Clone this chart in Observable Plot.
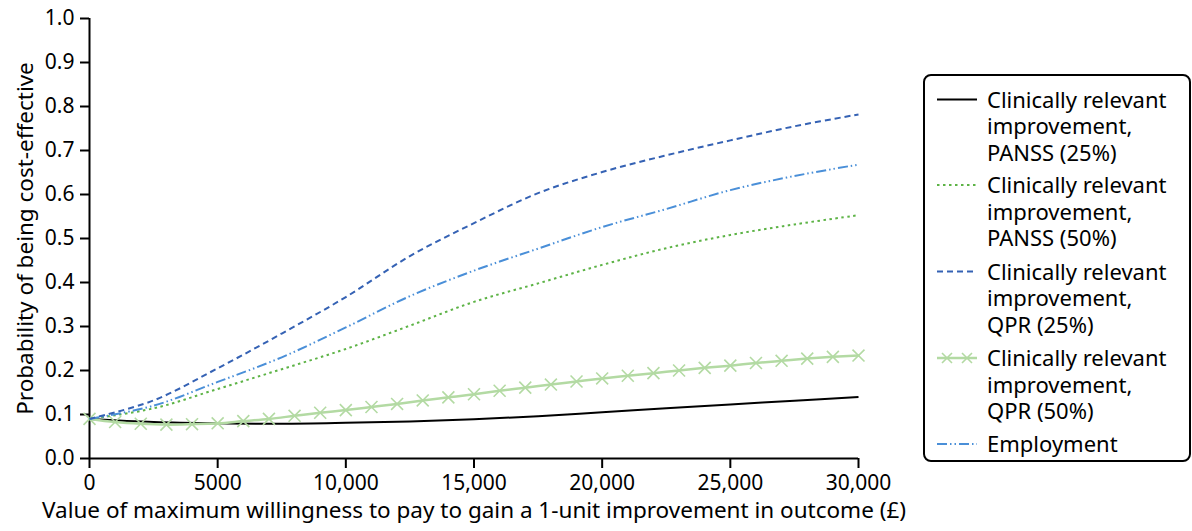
<!DOCTYPE html>
<html>
<head>
<meta charset="utf-8">
<script src="https://cdn.jsdelivr.net/npm/d3@7"></script>
<script src="https://cdn.jsdelivr.net/npm/@observablehq/plot@0.6"></script>
<style>
  html, body { margin: 0; padding: 0; background: #fff; }
  #chart { width: 1192px; height: 531px; }
</style>
</head>
<body>
<div id="chart"></div>
<script>
// Willingness-to-pay values (£)
const wtp = [0, 2500, 5000, 7500, 10000, 12500, 15000, 17500, 20000, 22500, 25000, 27500, 30000];
const panss25 = [0.090, 0.083, 0.080, 0.079, 0.081, 0.084, 0.089, 0.096, 0.105, 0.114, 0.123, 0.131, 0.140];
const panss50 = [0.090, 0.114, 0.158, 0.203, 0.249, 0.302, 0.356, 0.398, 0.440, 0.478, 0.508, 0.532, 0.553];
const qpr25   = [0.090, 0.132, 0.205, 0.284, 0.367, 0.460, 0.535, 0.603, 0.651, 0.689, 0.723, 0.755, 0.782];
const employment = [0.090, 0.120, 0.174, 0.230, 0.298, 0.369, 0.427, 0.477, 0.526, 0.567, 0.610, 0.642, 0.668];
// QPR (50%) read at every £1000 (marker positions)
const wtp1000 = d3.range(0, 30001, 1000);
const qpr50 = [0.090, 0.083, 0.079, 0.077, 0.078, 0.080, 0.085, 0.090, 0.097, 0.104, 0.110, 0.117, 0.124, 0.132, 0.139,
               0.146, 0.154, 0.161, 0.168, 0.175, 0.182, 0.188, 0.194, 0.200, 0.206, 0.211, 0.217, 0.222, 0.227, 0.231, 0.234];

const xTicks = [0, 5000, 10000, 15000, 20000, 25000, 30000];
const yTicks = [0, 0.1, 0.2, 0.3, 0.4, 0.5, 0.6, 0.7, 0.8, 0.9, 1.0];
const xLabel = "Value of maximum willingness to pay to gain a 1-unit improvement in outcome (£)";
const yLabel = "Probability of being cost-effective";

const seriesNames = [
  "Clinically relevant improvement, PANSS (25%)",
  "Clinically relevant improvement, PANSS (50%)",
  "Clinically relevant improvement, QPR (25%)",
  "Clinically relevant improvement, QPR (50%)",
  "Employment"
];
const legendLines = [
  ["Clinically relevant", "improvement,", "PANSS (25%)"],
  ["Clinically relevant", "improvement,", "PANSS (50%)"],
  ["Clinically relevant", "improvement,", "QPR (25%)"],
  ["Clinically relevant", "improvement,", "QPR (50%)"],
  ["Employment"]
];
const styles = [
  {stroke: "#000000", dash: null, width: 2},
  {stroke: "#5db346", dash: "2.5,3.5", width: 2},
  {stroke: "#3562b4", dash: "6,4", width: 2},
  {stroke: "#b3daa3", dash: null, width: 2.5},
  {stroke: "#4a8fd8", dash: "10,3,1.5,3,1.5,3", width: 2}
];

const toRows = (vals, xs) => vals.map((v, i) => ({x: xs[i], y: v}));
const rows = [panss25, panss50, qpr25, null, employment];

const lineMark = k => Plot.line(toRows(rows[k], wtp), {
  x: "x", y: "y", curve: "catmull-rom", stroke: styles[k].stroke,
  strokeWidth: styles[k].width, strokeDasharray: styles[k].dash, strokeLinecap: "butt"
});
const qpr50Rows = toRows(qpr50, wtp1000);

const fmtX = d => d === 0 ? "0" : (d < 10000 ? String(d) : d3.format(",")(d));
const FONT = "Noto Sans, sans-serif";

const chart = Plot.plot({
  width: 1192, height: 531,
  marginLeft: 89, marginRight: 334, marginTop: 18, marginBottom: 73,
  style: {fontFamily: FONT, fontSize: "21px", color: "#000", background: "#fff", overflow: "visible"},
  x: {domain: [0, 30000]},
  y: {domain: [0, 1]},
  marks: [
    Plot.axisX({ticks: xTicks, tickFormat: fmtX, tickSize: 10, tickPadding: 7, strokeWidth: 2, label: null, fontSize: 21}),
    Plot.axisY({ticks: yTicks, tickFormat: d3.format(".1f"), tickSize: 9, tickPadding: 6, strokeWidth: 2, label: null, fontSize: 21}),
    Plot.ruleY([0], {stroke: "#000", strokeWidth: 2}),
    Plot.ruleX([0], {stroke: "#000", strokeWidth: 2}),
    lineMark(0),
    Plot.line(qpr50Rows, {x: "x", y: "y", curve: "catmull-rom", stroke: styles[3].stroke, strokeWidth: 2.5}),
    Plot.dot(qpr50Rows, {x: "x", y: "y", symbol: "times", r: 5.5, stroke: styles[3].stroke, strokeWidth: 1.6}),
    lineMark(1), lineMark(4), lineMark(2),
    Plot.text([xLabel], {frameAnchor: "bottom", textAnchor: "middle", dy: 59, fontSize: 22.5, fill: "#000"}),
    Plot.text([yLabel], {frameAnchor: "left", textAnchor: "middle", rotate: -90, dx: -64, fontSize: 22.5, fill: "#000"})
  ]
});
document.getElementById("chart").appendChild(chart);

// Legend (drawn into the same SVG)
const svg = d3.select(chart);
const lg = svg.append("g").attr("font-family", FONT).attr("font-size", 22).attr("fill", "#000")
  .attr("text-anchor", "start");
lg.append("rect").attr("x", 924).attr("y", 75).attr("width", 266).attr("height", 386)
  .attr("rx", 7).attr("fill", "#fff").attr("stroke", "#000").attr("stroke-width", 2);
const firstBaselines = [107.5, 193, 279.5, 366, 452];
const lineStep = 26.7;
legendLines.forEach((lines, k) => {
  const s = styles[k];
  const b0 = firstBaselines[k];
  const sy = b0 - 8;
  const item = lg.append("g").attr("aria-label", seriesNames[k]);
  const ln = item.append("line").attr("x1", 937).attr("x2", 977).attr("y1", sy).attr("y2", sy)
    .attr("stroke", s.stroke).attr("stroke-width", s.width);
  if (s.dash) ln.attr("stroke-dasharray", s.dash);
  if (k === 3) {
    [947, 967].forEach(cx => {
      item.append("path").attr("d", `M${cx-5},${sy-5}L${cx+5},${sy+5}M${cx-5},${sy+5}L${cx+5},${sy-5}`)
        .attr("stroke", s.stroke).attr("stroke-width", 1.6).attr("fill", "none");
    });
  }
  lines.forEach((str, i) => {
    item.append("text").attr("x", 987).attr("y", b0 + i * lineStep).attr("text-anchor", "start").text(str);
  });
});
</script>
</body>
</html>
